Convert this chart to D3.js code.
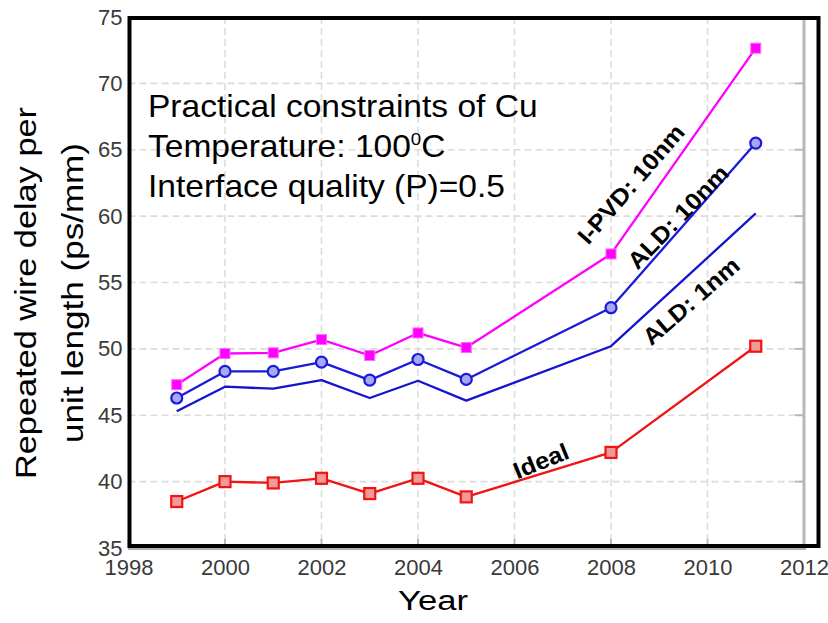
<!DOCTYPE html>
<html>
<head>
<meta charset="utf-8">
<script src="https://cdn.jsdelivr.net/npm/d3@7/dist/d3.min.js"></script>
<style>
  html, body { margin: 0; padding: 0; background: #fff; }
  svg { display: block; font-family: "Liberation Sans", Arial, sans-serif; }
</style>
</head>
<body>
<svg id="chart" width="828" height="623"></svg>
<script>
// Technology years and repeated-wire delay (ps/mm) per barrier option
const years = [1999, 2000, 2001, 2002, 2003, 2004, 2005, 2008, 2011];
const ipvd10 = [47.3, 49.65, 49.7, 50.7, 49.5, 51.2, 50.1, 57.15, 72.65];
const ald10 = [46.3, 48.3, 48.3, 49.0, 47.65, 49.2, 47.7, 53.1, 65.5];
const ald1 = [45.3, 47.15, 47.0, 47.65, 46.3, 47.6, 46.1, 50.2, 60.2];
const ideal = [38.5, 40.0, 39.9, 40.25, 39.1, 40.25, 38.85, 42.2, 50.2];

const xTicks = [1998, 2000, 2002, 2004, 2006, 2008, 2010, 2012];
const yTicks = [35, 40, 45, 50, 55, 60, 65, 70, 75];

const seriesLabels = ["I-PVD: 10nm", "ALD: 10nm", "ALD: 1nm", "Ideal"];
const noteLines = ["Practical constraints of Cu", "Temperature: 100", "Interface quality (P)=0.5"];

const svg = d3.select("#chart");
const x = d3.scaleLinear().domain([1998, 2012]).range([128.5, 804]);
const y = d3.scaleLinear().domain([35, 75]).range([548, 17]);

// dashed grid
const grid = svg.append("g").attr("stroke", "#dcdcdc").attr("stroke-width", 1.6)
  .attr("stroke-dasharray", "7,4");
grid.selectAll("line.v").data(xTicks.slice(1, -1)).join("line")
  .attr("x1", d => x(d)).attr("x2", d => x(d)).attr("y1", y(75)).attr("y2", y(35));
grid.selectAll("line.h").data(yTicks.slice(1, -1)).join("line")
  .attr("x1", x(1998)).attr("x2", x(2012)).attr("y1", d => y(d)).attr("y2", d => y(d));

// grey right axis with inward ticks, and bottom inward ticks
svg.append("line").attr("x1", x(2012)).attr("x2", x(2012)).attr("y1", 17).attr("y2", 549)
  .attr("stroke", "#b8b8b8").attr("stroke-width", 3);
svg.append("g").selectAll("line").data(yTicks).join("line")
  .attr("x1", x(2012) - 9).attr("x2", x(2012)).attr("y1", d => y(d)).attr("y2", d => y(d))
  .attr("stroke", "#b8b8b8").attr("stroke-width", 2);
svg.append("g").selectAll("line").data(xTicks).join("line")
  .attr("x1", d => x(d)).attr("x2", d => x(d)).attr("y1", y(35)).attr("y2", y(35) - 9)
  .attr("stroke", "#b8b8b8").attr("stroke-width", 2);
svg.append("line").attr("x1", 128).attr("x2", 806).attr("y1", 549).attr("y2", 549)
  .attr("stroke", "#b0b0b0").attr("stroke-width", 2);

// axes tick labels
const xAxis = svg.append("g").attr("transform", `translate(0,${y(35)})`)
  .call(d3.axisBottom(x).tickValues(xTicks).tickFormat(d3.format("d")).tickSize(0).tickPadding(11));
const yAxis = svg.append("g").attr("transform", `translate(${x(1998)},0)`)
  .call(d3.axisLeft(y).tickValues(yTicks).tickSize(0).tickPadding(6));
[xAxis, yAxis].forEach(a => {
  a.select(".domain").remove();
  a.selectAll("text").attr("font-size", 22).attr("fill", "#3a3a3a")
    .attr("font-family", "Liberation Sans, Arial, sans-serif");
});

// black frame
svg.append("path")
  .attr("d", `M129.5,18 H818.5 V546 H129.5 Z`)
  .attr("fill", "none").attr("stroke", "#000").attr("stroke-width", 4);

// series
const line = d3.line().x((d, i) => x(years[i])).y(d => y(d));
const series = [
  { values: ipvd10, color: "#ff00ff", marker: "fsquare" },
  { values: ald10, color: "#1a1ad8", marker: "circle" },
  { values: ald1, color: "#1414d0", marker: "none" },
  { values: ideal, color: "#f01414", marker: "square" }
];
series.forEach(s => {
  svg.append("path").datum(s.values).attr("d", line)
    .attr("fill", "none").attr("stroke", s.color).attr("stroke-width", 2.3)
    .attr("stroke-linejoin", "round");
  const g = svg.append("g");
  if (s.marker === "fsquare") {
    g.selectAll("rect").data(s.values).join("rect")
      .attr("x", (d, i) => x(years[i]) - 5).attr("y", d => y(d) - 5)
      .attr("width", 10).attr("height", 10).attr("fill", s.color)
      .attr("stroke", "#ff66ff").attr("stroke-width", 1);
  } else if (s.marker === "circle") {
    g.selectAll("circle").data(s.values).join("circle")
      .attr("cx", (d, i) => x(years[i])).attr("cy", d => y(d)).attr("r", 5.5)
      .attr("fill", "#a8a8f2").attr("stroke", s.color).attr("stroke-width", 2.2);
  } else if (s.marker === "square") {
    g.selectAll("rect").data(s.values).join("rect")
      .attr("x", (d, i) => x(years[i]) - 5.5).attr("y", d => y(d) - 5.5)
      .attr("width", 11).attr("height", 11).attr("fill", "#f09a9a")
      .attr("stroke", s.color).attr("stroke-width", 2.2);
  }
});

// series labels along the curves
const labelPos = [
  { cx: 631, cy: 184, a: -49 },
  { cx: 678, cy: 217, a: -46 },
  { cx: 691, cy: 301, a: -41 },
  { cx: 541, cy: 461, a: -22 }
];
seriesLabels.forEach((t, i) => {
  const p = labelPos[i];
  svg.append("text")
    .attr("transform", `translate(${p.cx},${p.cy}) rotate(${p.a}) scale(1.08,1)`)
    .attr("text-anchor", "middle").attr("dominant-baseline", "central")
    .attr("font-size", 23.5).attr("font-weight", "bold").attr("fill", "#000")
    .text(t);
});

// annotation block
const note = svg.append("g").attr("transform", "translate(148,0) scale(1.1,1)")
  .attr("font-size", 30.5).attr("fill", "#000");
note.append("text").attr("x", 0).attr("y", 117).text(noteLines[0]);
const t2 = note.append("text").attr("x", 0).attr("y", 157);
t2.append("tspan").text(noteLines[1]);
t2.append("tspan").attr("font-size", 17).attr("dy", -12).text("0");
t2.append("tspan").attr("dy", 12).text("C");
note.append("text").attr("x", 0).attr("y", 197).text(noteLines[2]);

// axis titles
svg.append("text").attr("x", 433).attr("y", 610).attr("text-anchor", "middle")
  .attr("font-size", 27).attr("textLength", 70).attr("lengthAdjust", "spacingAndGlyphs")
  .text("Year");
svg.append("text").attr("transform", "translate(36,293) rotate(-90)")
  .attr("text-anchor", "middle").attr("font-size", 29.5)
  .attr("textLength", 372).attr("lengthAdjust", "spacingAndGlyphs")
  .text("Repeated wire delay per");
svg.append("text").attr("transform", "translate(83,293) rotate(-90)")
  .attr("text-anchor", "middle").attr("font-size", 29.5)
  .attr("textLength", 300).attr("lengthAdjust", "spacingAndGlyphs")
  .text("unit length (ps/mm)");
</script>
</body>
</html>
